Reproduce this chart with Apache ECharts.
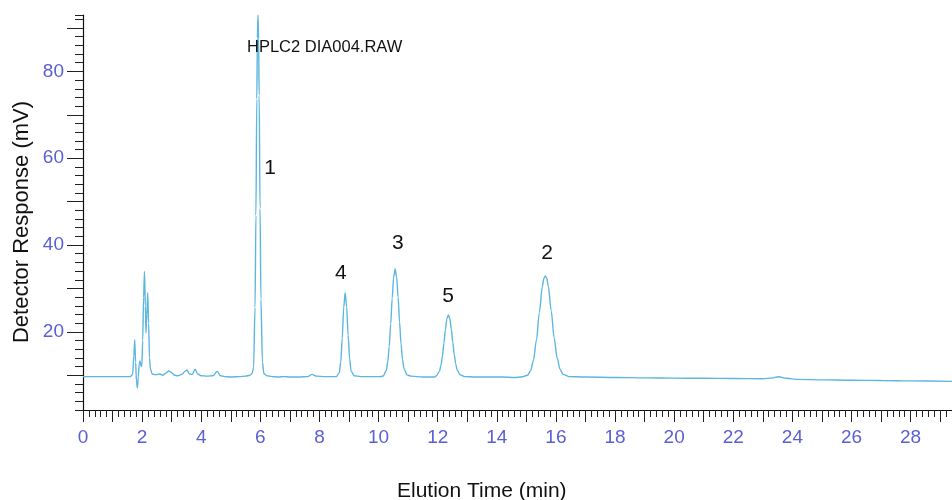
<!DOCTYPE html>
<html>
<head>
<meta charset="utf-8">
<script src="https://cdn.jsdelivr.net/npm/echarts@6.0.0/dist/echarts.min.js"></script>
<style>
  html, body { margin: 0; padding: 0; background: #fff; }
  #chart { width: 952px; height: 500px; }
</style>
</head>
<body>
<div id="chart"></div>
<script>
// elution time (min)
var elutionTimes = [
  0, 1.0, 1.6, 1.68, 1.72, 1.75, 1.78, 1.81, 1.84, 1.87, 1.9, 1.93, 1.96, 1.99,
  2.02, 2.05, 2.08, 2.11, 2.13, 2.16, 2.19, 2.22, 2.25, 2.28, 2.34, 2.45, 2.6,
  2.7, 2.8, 2.9, 3.0, 3.1, 3.2, 3.35, 3.45, 3.52, 3.6, 3.7, 3.79, 3.88, 4.0,
  4.2, 4.4, 4.54, 4.65, 4.8, 5.0, 5.3, 5.5, 5.65, 5.72, 5.77, 5.82, 5.85, 5.88,
  5.9, 5.92, 5.94, 5.96, 5.99, 6.02, 6.07, 6.12, 6.22, 6.4, 6.6, 6.8, 7.0, 7.3,
  7.6, 7.75, 7.9, 8.2, 8.57, 8.67, 8.72, 8.77, 8.82, 8.87, 8.92, 8.97, 9.02,
  9.07, 9.17, 9.4, 9.8, 10.06, 10.16, 10.26, 10.31, 10.36, 10.41, 10.46, 10.51,
  10.56, 10.61, 10.66, 10.71, 10.76, 10.81, 10.86, 10.96, 11.1, 11.5, 11.9,
  11.96, 12.06, 12.11, 12.16, 12.21, 12.26, 12.31, 12.36, 12.41, 12.46, 12.51,
  12.56, 12.61, 12.66, 12.76, 12.9, 13.3, 13.8, 14.2, 14.6, 14.84, 15.04, 15.14,
  15.24, 15.34, 15.44, 15.54, 15.59, 15.64, 15.69, 15.74, 15.84, 15.94, 16.04,
  16.14, 16.24, 16.44, 17, 18, 19, 20, 21, 22, 23, 23.3, 23.53, 23.8, 24.2, 25,
  26, 27, 28, 29.4
];
// detector response (mV)
var responses = [
  9.7, 9.7, 9.7, 10.2, 14.5, 18.2, 13, 8.5, 7.1, 9.5, 12.5, 13.3, 12.2, 12.0,
  18, 28, 33.9, 26, 19.8, 24, 29, 22, 14, 11.5, 10.3, 10.1, 10.3,
  10.0, 10.5, 11.0, 10.6, 10.0, 9.9, 10.2, 10.9, 11.2, 10.3, 10.2, 11.4, 10.3, 9.9,
  9.8, 9.9, 10.9, 9.9, 9.7, 9.6, 9.7, 9.8, 10.0, 10.4, 11.7, 25.6, 46.8, 73.7,
  87.7, 93, 87.5, 74.5, 48.5, 27.5, 13, 10.4, 9.9, 9.7, 9.6, 9.7, 9.6, 9.6,
  9.7, 10.2, 9.8, 9.7, 9.7, 10.55, 13.0, 18.5, 25.6, 29.0, 25.8, 19.2, 13.8,
  11.0, 9.9, 9.7, 9.7, 9.7, 9.85, 11.1, 13.1, 16.6, 21.8, 27.7, 32.6,
  34.5, 32.7, 28.0, 22.3, 17.2, 13.6, 11.5, 10.1, 9.8, 9.6, 9.6,
  9.9, 10.9, 12.3, 14.4, 17.4, 20.5, 23.0, 23.9, 23.1, 20.7, 17.7,
  14.8, 12.6, 11.2, 10.1, 9.7, 9.6, 9.6, 9.6, 9.5, 9.6, 10.0, 11.0,
  13.5, 18.1, 24.5, 30.4, 32.3, 32.9, 32.4, 30.6, 24.9, 18.6, 14.0,
  11.4, 10.2, 9.7, 9.6, 9.5, 9.4, 9.35, 9.3, 9.25, 9.2, 9.35, 9.65, 9.3, 9.05, 8.95,
  8.85, 8.8, 8.7, 8.6
];

// peak numbers and where they sit
var peakNames = ['1', '4', '3', '5', '2'];
var peakLabelTimes = [6.33, 8.72, 10.65, 12.35, 15.7];
var peakLabelValues = [57.8, 33.6, 40.5, 28.3, 38.2];

// axis ticks
var yLongTicks = [10, 20, 30, 40, 50, 60, 70, 80, 90];
var yTickLabels = [20, 40, 60, 80];

var traceColor = '#5cb6e0';
var labelBlue = '#5a5fd2';

var chart = echarts.init(document.getElementById('chart'), null, {renderer: 'canvas'});

var option = {
  animation: false,
  backgroundColor: '#fff',
  title: [
    {
      text: 'HPLC2 DIA004.RAW',
      left: 242, top: 34,
      textStyle: {fontFamily: 'Liberation Sans', fontSize: 16.5, fontWeight: 'normal', color: '#111'}
    },
    {
      text: 'Elution Time (min)',
      left: 392, top: 476,
      textStyle: {fontFamily: 'Liberation Sans', fontSize: 21, fontWeight: 'normal', color: '#111'}
    }
  ],
  // y axis title, rotated
  graphic: [
    {
      type: 'text',
      x: 22, y: 222,
      rotation: Math.PI / 2,
      style: {
        text: 'Detector Response (mV)',
        fontFamily: 'Liberation Sans', fontSize: 22, fill: '#111',
        align: 'center', verticalAlign: 'middle'
      }
    }
  ],
  grid: {left: 83, right: 0, top: 15, bottom: 90},
  xAxis: {
    type: 'value',
    min: 0, max: 29.4, interval: 1,
    axisLine: {show: true, lineStyle: {color: '#111', width: 1.2}},
    axisTick: {show: true, length: 12, lineStyle: {color: '#222'}},
    minorTick: {show: true, splitNumber: 5, length: 7, lineStyle: {color: '#222'}},
    splitLine: {show: false},
    axisLabel: {
      margin: 18,
      color: labelBlue, fontSize: 19, fontFamily: 'Liberation Sans',
      showMaxLabel: false,
      formatter: function (v) { return (Math.round(v) === v && v % 2 === 0) ? String(v) : ''; }
    }
  },
  yAxis: [
    {
      type: 'value',
      min: 2, max: 93, interval: 2,
      axisLine: {show: true, lineStyle: {color: '#111', width: 1.2}},
      axisTick: {show: true, length: 8, lineStyle: {color: '#222'}},
      splitLine: {show: false},
      axisLabel: {show: false}
    },
    {
      type: 'value',
      min: 2, max: 93,
      position: 'left',
      axisLine: {show: false},
      axisTick: {show: true, length: 16, customValues: yLongTicks, lineStyle: {color: '#222'}},
      splitLine: {show: false},
      axisLabel: {
        show: true, customValues: yTickLabels, margin: 19,
        color: labelBlue, fontSize: 19, fontFamily: 'Liberation Sans'
      }
    }
  ],
  series: [
    {
      type: 'line',
      yAxisIndex: 0,
      data: elutionTimes.map(function (t, i) { return [t, responses[i]]; }),
      showSymbol: false,
      smooth: 0.3,
      smoothMonotone: 'x',
      lineStyle: {color: traceColor, width: 1.4},
      markPoint: {
        symbol: 'circle',
        symbolSize: 1,
        itemStyle: {color: 'rgba(0,0,0,0)'},
        label: {show: true, position: 'inside', fontFamily: 'Liberation Sans', fontSize: 21, color: '#111',
          formatter: function (p) { return p.name; }},
        data: peakNames.map(function (n, i) {
          return {name: n, coord: [peakLabelTimes[i], peakLabelValues[i]]};
        })
      }
    }
  ]
};

chart.setOption(option);
</script>
</body>
</html>
